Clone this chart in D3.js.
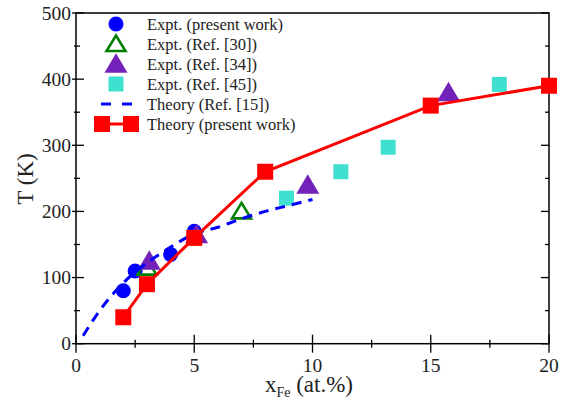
<!DOCTYPE html>
<html>
<head>
<meta charset="utf-8">
<script src="https://cdn.jsdelivr.net/npm/d3@7"></script>
<style>
  html, body { margin: 0; padding: 0; background: #fff; }
</style>
</head>
<body>
<svg id="chart" width="572" height="401" font-family="'Liberation Serif', 'Times New Roman', Times, 'DejaVu Serif', serif"></svg>
<script>
// Curie temperature vs Fe concentration
const exptPresentX = [2, 2.5, 4, 5];
const exptPresentT = [80, 110, 135, 170];

const ref30X = [3, 7];
const ref30T = [115, 200];

const ref34X = [3.1, 5.1, 9.8, 15.75];
const ref34T = [125, 165, 240, 380];

const ref45X = [8.9, 11.2, 13.2, 17.9];
const ref45T = [220, 260, 297, 392];

const theoryRef15X = [0.3, 1, 2, 3, 4, 5, 6, 7, 8, 9, 10];
const theoryRef15T = [12, 50, 92, 122, 146, 166, 176, 189, 200, 209, 218];

const theoryPresentX = [2, 3, 5, 8, 15, 20];
const theoryPresentT = [40, 90, 160, 260, 360, 390];

const xMajorTicks = [0, 5, 10, 15, 20];
const xMinorTicks = [2.5, 7.5, 12.5, 17.5];
const yMajorTicks = [0, 100, 200, 300, 400, 500];
const yMinorTicks = [50, 150, 250, 350, 450];

const legendLabels = [
  "Expt. (present work)",
  "Expt. (Ref. [30])",
  "Expt. (Ref. [34])",
  "Expt. (Ref. [45])",
  "Theory (Ref. [15])",
  "Theory (present work)"
];

const BLUE = "#0000ff", GREEN = "#008000", PURPLE = "#7222b8",
      CYAN = "#40e0d0", RED = "#ff0000", INK = "#222";

const svg = d3.select("#chart");
const plotLeft = 76, plotRight = 549, plotTop = 13, plotBottom = 343.7;
const x = d3.scaleLinear().domain([0, 20]).range([plotLeft, plotRight]);
const y = d3.scaleLinear().domain([0, 500]).range([plotBottom, plotTop]);

const zip = (xs, ys) => xs.map((v, i) => [v, ys[i]]);

// marker drawers
function circle(g, cx, cy, color) {
  g.append("circle").attr("cx", cx).attr("cy", cy).attr("r", 7.5).attr("fill", color);
}
function square(g, cx, cy, color, s) {
  g.append("rect").attr("x", cx - s / 2).attr("y", cy - s / 2)
    .attr("width", s).attr("height", s).attr("fill", color);
}
function triangle(g, cx, cy, w, h, fill, stroke, sw) {
  const pts = [[cx, cy - 0.55 * h], [cx + w / 2, cy + 0.45 * h], [cx - w / 2, cy + 0.45 * h]];
  g.append("polygon").attr("points", pts.map(p => p.join(",")).join(" "))
    .attr("fill", fill).attr("stroke", stroke || "none").attr("stroke-width", sw || 0)
    .attr("stroke-linejoin", "miter");
}

// frame and ticks
const axes = svg.append("g");
axes.append("rect").attr("x", plotLeft).attr("y", plotTop)
  .attr("width", plotRight - plotLeft).attr("height", plotBottom - plotTop)
  .attr("fill", "none").attr("stroke", "#000").attr("stroke-width", 1.5);

function tick(x1, x2, y1, y2) {
  axes.append("line").attr("x1", x1).attr("x2", x2).attr("y1", y1).attr("y2", y2)
    .attr("stroke", "#000").attr("stroke-width", 1.3);
}
xMajorTicks.forEach(v => tick(x(v), x(v), plotBottom - 9, plotBottom + 9));
xMinorTicks.forEach(v => tick(x(v), x(v), plotBottom - 4, plotBottom + 4));
yMajorTicks.forEach(v => {
  tick(plotLeft - 4, plotLeft + 8, y(v), y(v));
  tick(plotRight - 8, plotRight, y(v), y(v));
});
yMinorTicks.forEach(v => {
  tick(plotLeft - 2, plotLeft + 4, y(v), y(v));
  tick(plotRight - 4, plotRight, y(v), y(v));
});

// tick labels
xMajorTicks.forEach(v => {
  axes.append("text").attr("x", x(v)).attr("y", 372).attr("text-anchor", "middle")
    .attr("font-size", 19.5).attr("fill", INK).text(v);
});
yMajorTicks.forEach(v => {
  axes.append("text").attr("x", 71).attr("y", y(v) + 6.5).attr("text-anchor", "end")
    .attr("font-size", 19.5).attr("fill", INK).text(v);
});

// axis titles
axes.append("text").attr("transform", "translate(33,179) rotate(-90)").attr("text-anchor", "middle")
  .attr("font-size", 23).attr("fill", INK).text("T (K)");
const xt = axes.append("text").attr("x", 309).attr("y", 392).attr("text-anchor", "middle")
  .attr("font-size", 23).attr("fill", INK);
xt.append("tspan").text("x");
xt.append("tspan").attr("font-size", 14).attr("dy", 5).text("Fe");
xt.append("tspan").attr("dy", -5).text(" (at.%)");

// data layers
const plot = svg.append("g");
zip(exptPresentX, exptPresentT).forEach(([a, b]) => circle(plot, x(a), y(b), BLUE));
zip(ref30X, ref30T).forEach(([a, b]) => triangle(plot, x(a), y(b), 19, 15.5, "none", GREEN, 2.6));
zip(ref34X, ref34T).forEach(([a, b]) => triangle(plot, x(a), y(b), 23, 19.5, PURPLE));
zip(ref45X, ref45T).forEach(([a, b]) => square(plot, x(a), y(b), CYAN, 15));

const dashedLine = d3.line().x(d => x(d[0])).y(d => y(d[1])).curve(d3.curveMonotoneX);
plot.append("path").attr("d", dashedLine(zip(theoryRef15X, theoryRef15T)))
  .attr("fill", "none").attr("stroke", BLUE).attr("stroke-width", 3)
  .attr("stroke-dasharray", "10,7");

const solidLine = d3.line().x(d => x(d[0])).y(d => y(d[1]));
plot.append("path").attr("d", solidLine(zip(theoryPresentX, theoryPresentT)))
  .attr("fill", "none").attr("stroke", RED).attr("stroke-width", 3);
zip(theoryPresentX, theoryPresentT).forEach(([a, b]) => square(plot, x(a), y(b), RED, 16));

// legend
const leg = svg.append("g");
const rowY = i => 24 + 20 * i;
const mx = 116, tx = 147;
circle(leg, mx, rowY(0), BLUE);
triangle(leg, mx, rowY(1), 19, 15.5, "none", GREEN, 2.6);
triangle(leg, mx, rowY(2), 23, 19.5, PURPLE);
square(leg, mx, rowY(3), CYAN, 15);
leg.append("line").attr("x1", 101).attr("x2", 132).attr("y1", rowY(4)).attr("y2", rowY(4))
  .attr("stroke", BLUE).attr("stroke-width", 3).attr("stroke-dasharray", "10,11");
leg.append("line").attr("x1", 102).attr("x2", 131).attr("y1", rowY(5)).attr("y2", rowY(5))
  .attr("stroke", RED).attr("stroke-width", 3);
square(leg, 102, rowY(5), RED, 16);
square(leg, 131, rowY(5), RED, 16);
legendLabels.forEach((t, i) => {
  leg.append("text").attr("x", tx).attr("y", rowY(i) + 6).attr("font-size", 16.5)
    .attr("fill", INK).text(t);
});
</script>
</body>
</html>
